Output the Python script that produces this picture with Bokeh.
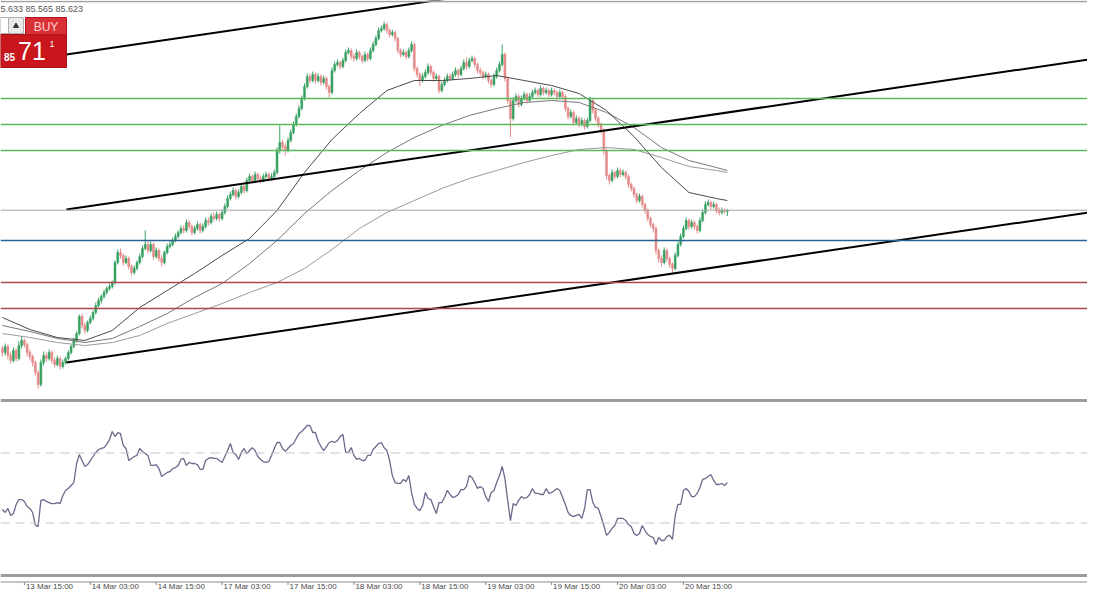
from bokeh.plotting import figure
from bokeh.models import Range1d, Span, ColumnDataSource
from bokeh.core.properties import value
from bokeh.embed import file_html
from bokeh.resources import INLINE

# ------------------------------------------------------------------ data
# M30 candles, bar index 0..264 (bar 8 = 13 Mar 15:00)
open_ = [
    84.24, 84.20, 84.26, 84.17, 84.12, 84.22, 84.14, 84.27, 84.32, 84.28,
    84.20, 84.16, 84.10, 84.00, 83.88, 84.10, 84.17, 84.14, 84.20, 84.12,
    84.08, 84.14, 84.06, 84.10, 84.14, 84.20, 84.26, 84.32, 84.39, 84.56,
    84.47, 84.42, 84.50, 84.54, 84.60, 84.67, 84.72, 84.76, 84.80, 84.84,
    84.86, 84.90, 85.10, 85.20, 85.17, 85.10, 85.14, 85.06, 85.00, 85.04,
    85.10, 85.16, 85.24, 85.28, 85.22, 85.28, 85.16, 85.22, 85.14, 85.10,
    85.20, 85.26, 85.28, 85.32, 85.36, 85.40, 85.44, 85.42, 85.50, 85.46,
    85.40, 85.44, 85.48, 85.42, 85.46, 85.52, 85.50, 85.56, 85.54, 85.58,
    85.54, 85.60, 85.66, 85.74, 85.78, 85.82, 85.76, 85.80, 85.86, 85.82,
    85.92, 85.96, 85.92, 85.98, 85.94, 85.92, 85.96, 85.98, 85.94, 85.96,
    86.00, 86.22, 86.30, 86.26, 86.22, 86.32, 86.40, 86.48, 86.56, 86.64,
    86.74, 86.86, 86.96, 86.92, 86.98, 86.92, 86.96, 86.90, 86.94, 86.86,
    86.80, 87.02, 87.08, 87.10, 87.06, 87.12, 87.20, 87.22, 87.16, 87.14,
    87.20, 87.16, 87.12, 87.18, 87.14, 87.22, 87.28, 87.34, 87.42, 87.44,
    87.48, 87.42, 87.38, 87.40, 87.34, 87.22, 87.18, 87.20, 87.16, 87.22,
    87.28, 87.04, 86.98, 86.92, 86.96, 87.00, 87.06, 87.00, 86.94, 86.96,
    86.82, 86.88, 86.92, 86.96, 86.94, 86.98, 87.02, 86.98, 87.04, 87.10,
    87.06, 87.12, 87.14, 87.08, 87.02, 87.00, 86.96, 86.98, 86.92, 86.88,
    86.96, 87.02, 87.08, 87.18, 86.94, 86.72, 86.54, 86.72, 86.76, 86.68,
    86.74, 86.78, 86.72, 86.76, 86.80, 86.82, 86.78, 86.84, 86.80, 86.82,
    86.78, 86.82, 86.80, 86.76, 86.80, 86.76, 86.64, 86.56, 86.60, 86.50,
    86.54, 86.48, 86.52, 86.46, 86.52, 86.72, 86.62, 86.54, 86.48, 86.42,
    86.22, 85.97, 85.92, 86.00, 85.96, 86.02, 85.98, 86.00, 85.96, 85.88,
    85.84, 85.78, 85.72, 85.76, 85.68, 85.62, 85.54, 85.48, 85.44, 85.22,
    85.14, 85.10, 85.22, 85.14, 85.08, 85.04, 85.17, 85.28, 85.36, 85.44,
    85.52, 85.46, 85.50, 85.46, 85.42, 85.52, 85.60, 85.68, 85.70, 85.66,
    85.68, 85.62, 85.60, 85.62, 85.61,
]
high_ = [
    84.27, 84.29, 84.28, 84.20, 84.25, 84.24, 84.31, 84.36, 84.34, 84.30,
    84.23, 84.18, 84.12, 84.02, 84.13, 84.21, 84.20, 84.23, 84.22, 84.15,
    84.17, 84.16, 84.13, 84.16, 84.22, 84.28, 84.35, 84.41, 84.58, 84.59,
    84.50, 84.52, 84.57, 84.62, 84.70, 84.75, 84.78, 84.83, 84.86, 84.89,
    84.92, 85.12, 85.23, 85.24, 85.19, 85.17, 85.16, 85.08, 85.07, 85.12,
    85.19, 85.27, 85.42, 85.31, 85.31, 85.30, 85.25, 85.24, 85.17, 85.22,
    85.29, 85.31, 85.35, 85.39, 85.42, 85.47, 85.47, 85.53, 85.52, 85.48,
    85.47, 85.51, 85.50, 85.49, 85.55, 85.55, 85.59, 85.60, 85.61, 85.60,
    85.63, 85.69, 85.77, 85.81, 85.85, 85.84, 85.83, 85.89, 85.88, 85.95,
    85.99, 85.98, 86.01, 86.00, 85.97, 85.99, 86.01, 86.00, 85.99, 86.03,
    86.25, 86.47, 86.33, 86.29, 86.35, 86.43, 86.51, 86.59, 86.67, 86.77,
    86.89, 86.99, 86.99, 87.01, 87.00, 86.99, 86.98, 86.97, 86.96, 86.88,
    87.05, 87.11, 87.13, 87.12, 87.15, 87.23, 87.25, 87.24, 87.19, 87.23,
    87.22, 87.18, 87.21, 87.20, 87.25, 87.31, 87.37, 87.45, 87.47, 87.51,
    87.50, 87.44, 87.43, 87.42, 87.36, 87.24, 87.23, 87.22, 87.25, 87.31,
    87.30, 87.06, 87.00, 86.99, 87.03, 87.09, 87.08, 87.02, 86.99, 86.98,
    86.91, 86.95, 86.99, 86.99, 87.01, 87.05, 87.04, 87.07, 87.13, 87.15,
    87.15, 87.17, 87.16, 87.10, 87.05, 87.02, 87.01, 87.00, 86.94, 86.99,
    87.05, 87.11, 87.28, 87.20, 86.96, 86.74, 86.75, 86.79, 86.78, 86.77,
    86.81, 86.80, 86.79, 86.83, 86.85, 86.84, 86.87, 86.86, 86.85, 86.84,
    86.85, 86.84, 86.82, 86.83, 86.82, 86.78, 86.66, 86.63, 86.62, 86.57,
    86.56, 86.55, 86.54, 86.55, 86.76, 86.74, 86.64, 86.56, 86.50, 86.44,
    86.24, 85.99, 86.03, 86.02, 86.05, 86.04, 86.03, 86.02, 85.98, 85.90,
    85.86, 85.80, 85.79, 85.78, 85.70, 85.64, 85.56, 85.50, 85.46, 85.24,
    85.17, 85.25, 85.24, 85.16, 85.10, 85.20, 85.31, 85.39, 85.47, 85.55,
    85.54, 85.53, 85.52, 85.48, 85.55, 85.63, 85.71, 85.73, 85.72, 85.71,
    85.70, 85.65, 85.65, 85.64, 85.633,
]
low_ = [
    84.16, 84.17, 84.13, 84.09, 84.10, 84.11, 84.12, 84.24, 84.25, 84.16,
    84.12, 84.06, 83.97, 83.84, 83.86, 84.07, 84.11, 84.12, 84.09, 84.05,
    84.06, 84.03, 84.04, 84.08, 84.12, 84.18, 84.24, 84.30, 84.37, 84.44,
    84.39, 84.40, 84.48, 84.52, 84.58, 84.65, 84.69, 84.74, 84.78, 84.82,
    84.84, 84.88, 85.08, 85.14, 85.07, 85.08, 85.03, 84.97, 84.98, 85.02,
    85.08, 85.14, 85.22, 85.19, 85.20, 85.13, 85.14, 85.11, 85.06, 85.08,
    85.18, 85.24, 85.26, 85.30, 85.34, 85.38, 85.39, 85.40, 85.43, 85.37,
    85.38, 85.42, 85.39, 85.40, 85.44, 85.47, 85.48, 85.51, 85.52, 85.51,
    85.52, 85.58, 85.64, 85.72, 85.76, 85.73, 85.74, 85.78, 85.79, 85.80,
    85.90, 85.89, 85.90, 85.91, 85.89, 85.90, 85.94, 85.91, 85.92, 85.94,
    85.98, 86.19, 86.23, 86.17, 86.20, 86.30, 86.38, 86.46, 86.54, 86.62,
    86.72, 86.84, 86.89, 86.90, 86.89, 86.90, 86.87, 86.88, 86.83, 86.75,
    86.78, 87.00, 87.06, 87.03, 87.04, 87.10, 87.18, 87.13, 87.11, 87.12,
    87.13, 87.09, 87.10, 87.11, 87.12, 87.20, 87.26, 87.32, 87.40, 87.42,
    87.39, 87.35, 87.36, 87.31, 87.19, 87.15, 87.16, 87.13, 87.14, 87.20,
    87.01, 86.95, 86.86, 86.90, 86.94, 86.98, 86.97, 86.91, 86.92, 86.79,
    86.80, 86.86, 86.90, 86.91, 86.92, 86.96, 86.95, 86.96, 87.02, 87.03,
    87.04, 87.10, 87.05, 86.99, 86.97, 86.93, 86.94, 86.89, 86.85, 86.86,
    86.94, 87.00, 87.06, 86.91, 86.69, 86.35, 86.52, 86.70, 86.65, 86.66,
    86.72, 86.69, 86.70, 86.74, 86.78, 86.75, 86.76, 86.77, 86.78, 86.75,
    86.76, 86.77, 86.73, 86.74, 86.73, 86.61, 86.53, 86.54, 86.47, 86.48,
    86.45, 86.46, 86.43, 86.44, 86.50, 86.59, 86.51, 86.45, 86.39, 86.18,
    85.93, 85.88, 85.90, 85.93, 85.94, 85.95, 85.96, 85.93, 85.85, 85.81,
    85.75, 85.69, 85.70, 85.65, 85.59, 85.51, 85.45, 85.40, 85.18, 85.10,
    85.06, 85.08, 85.11, 85.05, 84.99, 85.02, 85.15, 85.26, 85.34, 85.42,
    85.43, 85.44, 85.43, 85.39, 85.40, 85.50, 85.58, 85.66, 85.63, 85.64,
    85.59, 85.57, 85.58, 85.59, 85.565,
]
close_ = [
    84.20, 84.26, 84.17, 84.12, 84.22, 84.14, 84.27, 84.32, 84.28, 84.20,
    84.16, 84.10, 84.00, 83.88, 84.10, 84.17, 84.14, 84.20, 84.12, 84.08,
    84.14, 84.06, 84.10, 84.14, 84.20, 84.26, 84.32, 84.39, 84.56, 84.47,
    84.42, 84.50, 84.54, 84.60, 84.67, 84.72, 84.76, 84.80, 84.84, 84.86,
    84.90, 85.10, 85.20, 85.17, 85.10, 85.14, 85.06, 85.00, 85.04, 85.10,
    85.16, 85.24, 85.28, 85.22, 85.28, 85.16, 85.22, 85.14, 85.10, 85.20,
    85.26, 85.28, 85.32, 85.36, 85.40, 85.44, 85.42, 85.50, 85.46, 85.40,
    85.44, 85.48, 85.42, 85.46, 85.52, 85.50, 85.56, 85.54, 85.58, 85.54,
    85.60, 85.66, 85.74, 85.78, 85.82, 85.76, 85.80, 85.86, 85.82, 85.92,
    85.96, 85.92, 85.98, 85.94, 85.92, 85.96, 85.98, 85.94, 85.96, 86.00,
    86.22, 86.30, 86.26, 86.22, 86.32, 86.40, 86.48, 86.56, 86.64, 86.74,
    86.86, 86.96, 86.92, 86.98, 86.92, 86.96, 86.90, 86.94, 86.86, 86.80,
    87.02, 87.08, 87.10, 87.06, 87.12, 87.20, 87.22, 87.16, 87.14, 87.20,
    87.16, 87.12, 87.18, 87.14, 87.22, 87.28, 87.34, 87.42, 87.44, 87.48,
    87.42, 87.38, 87.40, 87.34, 87.22, 87.18, 87.20, 87.16, 87.22, 87.28,
    87.04, 86.98, 86.92, 86.96, 87.00, 87.06, 87.00, 86.94, 86.96, 86.82,
    86.88, 86.92, 86.96, 86.94, 86.98, 87.02, 86.98, 87.04, 87.10, 87.06,
    87.12, 87.14, 87.08, 87.02, 87.00, 86.96, 86.98, 86.92, 86.88, 86.96,
    87.02, 87.08, 87.18, 86.94, 86.72, 86.54, 86.72, 86.76, 86.68, 86.74,
    86.78, 86.72, 86.76, 86.80, 86.82, 86.78, 86.84, 86.80, 86.82, 86.78,
    86.82, 86.80, 86.76, 86.80, 86.76, 86.64, 86.56, 86.60, 86.50, 86.54,
    86.48, 86.52, 86.46, 86.52, 86.72, 86.62, 86.54, 86.48, 86.42, 86.22,
    85.97, 85.92, 86.00, 85.96, 86.02, 85.98, 86.00, 85.96, 85.88, 85.84,
    85.78, 85.72, 85.76, 85.68, 85.62, 85.54, 85.48, 85.44, 85.22, 85.14,
    85.10, 85.22, 85.14, 85.08, 85.04, 85.17, 85.28, 85.36, 85.44, 85.52,
    85.46, 85.50, 85.46, 85.42, 85.52, 85.60, 85.68, 85.70, 85.66, 85.68,
    85.62, 85.60, 85.62, 85.61, 85.623,
]
rsi = [
    37.7, 36.0, 38.3, 34.3, 35.4, 40.6, 43.4, 43.4, 42.3, 39.4,
    38.3, 36.0, 28.6, 28.0, 42.9, 43.4, 42.3, 41.7, 41.1, 41.1,
    41.7, 41.1, 45.7, 48.6, 49.7, 51.4, 53.1, 64.0, 69.1, 65.7,
    62.3, 63.4, 65.7, 68.0, 70.3, 72.0, 72.6, 73.1, 74.9, 77.7,
    82.3, 79.4, 81.7, 81.1, 74.3, 72.6, 65.7, 66.9, 68.0, 68.6,
    72.6, 70.9, 69.7, 68.6, 62.9, 62.9, 63.4, 61.1, 56.6, 57.7,
    58.9, 59.4, 61.1, 61.7, 62.9, 66.3, 66.9, 62.9, 64.6, 64.0,
    64.0, 63.4, 60.6, 60.6, 65.7, 66.9, 67.4, 66.9, 66.9, 65.7,
    64.6, 68.0, 71.4, 75.4, 70.3, 69.1, 66.3, 70.3, 72.6, 69.7,
    71.4, 73.1, 71.4, 68.0, 66.3, 65.1, 64.6, 65.1, 68.6, 72.6,
    76.0, 76.0, 72.6, 70.9, 72.6, 74.3, 75.4, 78.3, 81.1, 82.3,
    84.0, 85.7, 85.7, 81.7, 81.7, 76.6, 73.7, 71.4, 73.7, 76.0,
    76.6, 76.0, 77.1, 79.4, 80.6, 70.3, 70.3, 73.1, 68.6, 66.3,
    66.9, 65.7, 65.7, 68.6, 68.6, 72.0, 73.7, 75.4, 76.0, 73.1,
    71.4, 65.7, 57.1, 53.1, 52.6, 52.6, 54.9, 53.7, 57.1, 47.4,
    40.6, 38.3, 37.1, 40.0, 47.4, 44.0, 43.4, 39.4, 35.4, 41.7,
    41.7, 44.6, 48.6, 46.3, 44.6, 45.1, 46.3, 49.1, 49.1, 50.9,
    57.1, 56.0, 53.1, 49.7, 50.9, 49.7, 45.1, 42.3, 47.4, 48.6,
    53.1, 57.1, 62.3, 55.4, 42.9, 31.4, 41.1, 40.0, 42.9, 45.1,
    44.0, 44.6, 46.3, 49.7, 46.9, 46.9, 46.3, 46.3, 49.7, 46.9,
    47.4, 48.6, 49.7, 48.6, 44.6, 40.6, 36.0, 34.3, 33.7, 34.3,
    34.9, 32.6, 38.3, 49.1, 49.1, 41.7, 38.9, 38.3, 33.7, 28.6,
    22.9, 24.6, 26.9, 28.6, 32.6, 32.6, 32.6, 31.4, 29.1, 28.0,
    24.0, 22.9, 24.0, 28.6, 25.7, 23.4, 22.3, 21.7, 17.7, 21.7,
    20.0, 20.0, 22.3, 22.9, 20.6, 34.3, 40.6, 40.6, 48.6, 49.7,
    48.0, 45.1, 45.1, 46.9, 50.3, 54.9, 55.4, 56.6, 57.7, 54.3,
    52.0, 52.0, 52.6, 51.4, 53.1,
]
# moving averages, read every 10 bars
ma_bars = [0, 10, 20, 30, 40, 50, 60, 70, 80, 90, 100, 110, 120, 130,
           140, 150, 160, 170, 180, 190, 200, 210, 220, 230, 240, 250, 260, 264]
ma_fast = [84.55, 84.43, 84.35, 84.32, 84.42, 84.65, 84.82, 84.99, 85.17, 85.34,
           85.62, 86.00, 86.33, 86.59, 86.82, 86.92, 86.92, 86.94, 86.97, 86.92,
           86.87, 86.79, 86.62, 86.36, 86.05, 85.80, 85.74, 85.72]
ma_mid = [84.47, 84.41, 84.34, 84.30, 84.34, 84.46, 84.59, 84.75, 84.89, 85.09,
          85.32, 85.59, 85.82, 86.02, 86.20, 86.35, 86.47, 86.57, 86.64, 86.70,
          86.72, 86.70, 86.60, 86.45, 86.25, 86.12, 86.05, 86.02]
ma_slow = [84.39, 84.35, 84.30, 84.27, 84.30, 84.37, 84.49, 84.59, 84.69, 84.80,
           84.90, 85.04, 85.23, 85.44, 85.60, 85.72, 85.84, 85.94, 86.02, 86.10,
           86.17, 86.23, 86.25, 86.23, 86.15, 86.06, 86.02, 86.00]

tick_bars = [8, 32, 56, 80, 104, 128, 152, 176, 200, 224, 248]
tick_labels = ["13 Mar 15:00", "14 Mar 03:00", "14 Mar 15:00", "17 Mar 03:00",
               "17 Mar 15:00", "18 Mar 03:00", "18 Mar 15:00", "19 Mar 03:00",
               "19 Mar 15:00", "20 Mar 03:00", "20 Mar 15:00"]

green_levels = [86.74, 86.48, 86.22]
blue_levels = [85.32]
red_levels = [84.90, 84.64]
bid_price = 85.623
ask_price = 85.711
rsi_levels = [70, 30]

# channel trend lines: (bar, price) start and end
trend_bar0 = [23.3, 23.3, 23.3]
trend_price0 = [87.18, 85.63, 84.10]
trend_bar1 = [180, 398, 398]
trend_price1 = [87.81, 87.14, 85.61]

# ------------------------------------------------------------------ figure
UP = "#37a062"
DN = "#e48a8a"
AXIS = "#8a8a8a"

p = figure(width=1087, height=592,
           x_range=Range1d(-0.703, 395.15), y_range=Range1d(81.80, 87.72),
           output_backend="svg", toolbar_location=None,
           x_axis_location=None, y_axis_location=None,
           min_border=0, outline_line_color=None,
           background_fill_color="white", border_fill_color="white")
p.grid.visible = False
# RSI sub-window scale and a pixel scale for the chart furniture
p.extra_y_ranges = {"rsi": Range1d(-9.714, 328.57), "py": Range1d(592, 0)}
p.extra_x_ranges = {"px": Range1d(0, 1087)}

# candles
idx = list(range(len(close_)))


def candle_source(ids):
    return ColumnDataSource(dict(
        x=ids,
        top=[max(open_[i], close_[i]) for i in ids],
        bottom=[min(open_[i], close_[i]) for i in ids],
        high=[high_[i] for i in ids],
        low=[low_[i] for i in ids]))


s_up = candle_source([i for i in idx if close_[i] >= open_[i]])
s_dn = candle_source([i for i in idx if close_[i] < open_[i]])
for s, c in ((s_up, UP), (s_dn, DN)):
    p.segment(x0="x", y0="low", x1="x", y1="high", source=s,
              line_color=c, line_width=1)
    p.vbar(x="x", width=0.72, top="top", bottom="bottom", source=s,
           fill_color=c, line_color=c, line_width=0.5)

# moving averages
p.line(ma_bars, ma_slow, line_color="#9a9a9a", line_width=1)
p.line(ma_bars, ma_mid, line_color="#777777", line_width=1)
p.line(ma_bars, ma_fast, line_color="#4a4a4a", line_width=1)

# horizontal levels
for lv in green_levels:
    p.add_layout(Span(location=lv, dimension="width", line_color="#5cb85c",
                      line_width=1.5))
for lv in blue_levels:
    p.add_layout(Span(location=lv, dimension="width", line_color="#2a6496",
                      line_width=1.5))
for lv in red_levels:
    p.add_layout(Span(location=lv, dimension="width", line_color="#a84a4a",
                      line_width=1.5))
p.add_layout(Span(location=bid_price, dimension="width", line_color="#a6a6a6",
                  line_width=1))

# trend channel
p.segment(x0=trend_bar0, y0=trend_price0, x1=trend_bar1, y1=trend_price1,
          line_color="black", line_width=2)

# RSI sub-window
p.line(idx, rsi, y_range_name="rsi", line_color="#6a6a8c", line_width=1.3)
for lv in rsi_levels:
    p.add_layout(Span(location=lv, dimension="width", y_range_name="rsi",
                      line_color="#c4c4cc", line_width=1, line_dash="9 6"))
# window borders
p.add_layout(Span(location=1, dimension="width", y_range_name="py",
                  line_color="#a0a0a0", line_width=1.5))
p.add_layout(Span(location=100, dimension="width", y_range_name="rsi",
                  line_color="#9c9c9c", line_width=3))
p.add_layout(Span(location=0, dimension="width", y_range_name="rsi",
                  line_color="#9c9c9c", line_width=3))

# time axis (MT4 style: labels start at their tick)
p.add_layout(Span(location=581.5, dimension="width", y_range_name="py",
                  line_color=AXIS, line_width=1))
p.segment(x0=tick_bars, y0=[581.5] * len(tick_bars), x1=tick_bars,
          y1=[584.5] * len(tick_bars), y_range_name="py",
          line_color=AXIS, line_width=1)
p.text(x=tick_bars, y=[590.5] * len(tick_bars), text=tick_labels,
       y_range_name="py", x_offset=1.5,
       text_font=value("Liberation Sans"), text_font_size=value("8px"),
       text_color="#4a4a4a", text_align="left", text_baseline="bottom")

# header text (high, low, close of current bar; first digit is off-screen)
header = f"{high_[-1]:.3f} {low_[-1]:.3f} {close_[-1]:.3f}"[1:]
p.text(x=[0], y=[8.5], text=[header], x_range_name="px", y_range_name="py",
       text_font=value("Liberation Sans"), text_font_size=value("9px"),
       text_color="#555555", text_align="left", text_baseline="middle")

# one-click trading widget
p.quad(left=[0], right=[8], top=[17], bottom=[33], x_range_name="px",
       y_range_name="py", fill_color="white", line_color="#b0b0b0")
p.quad(left=[8], right=[23], top=[17], bottom=[33], x_range_name="px",
       y_range_name="py", fill_color="#e9e9e9", line_color="#b0b0b0")
p.scatter(x=[15.5], y=[25.5], marker="triangle", size=5, x_range_name="px",
          y_range_name="py", color="#333333")
p.quad(left=[0], right=[66], top=[34], bottom=[67], x_range_name="px",
       y_range_name="py", fill_color="#c8161c", line_color="#a50f14")
p.quad(left=[25], right=[66], top=[17], bottom=[34], x_range_name="px",
       y_range_name="py", fill_color="#d93036", line_color="#b0161b")
ask_txt = f"{ask_price:.3f}"
p.text(x=[45.5], y=[26.5], text=["BUY"], x_range_name="px", y_range_name="py",
       text_font=value("Liberation Sans"), text_font_size=value("12px"),
       text_color="#ffd0d0", text_align="center", text_baseline="middle")
p.text(x=[9], y=[56.5], text=[ask_txt[:2]], x_range_name="px",
       y_range_name="py", text_font=value("Liberation Sans"),
       text_font_size=value("10px"), text_font_style="bold",
       text_color="white", text_align="center", text_baseline="middle")
p.text(x=[31.5], y=[50], text=[ask_txt[3:5]], x_range_name="px",
       y_range_name="py", text_font=value("Liberation Sans"),
       text_font_size=value("25px"), text_color="white", text_align="center",
       text_baseline="middle")
p.text(x=[51.5], y=[43.5], text=[ask_txt[5:]], x_range_name="px",
       y_range_name="py", text_font=value("Liberation Sans"),
       text_font_size=value("9px"), text_color="white", text_align="center",
       text_baseline="middle")

open("out.html", "w").write(file_html(p, INLINE))
